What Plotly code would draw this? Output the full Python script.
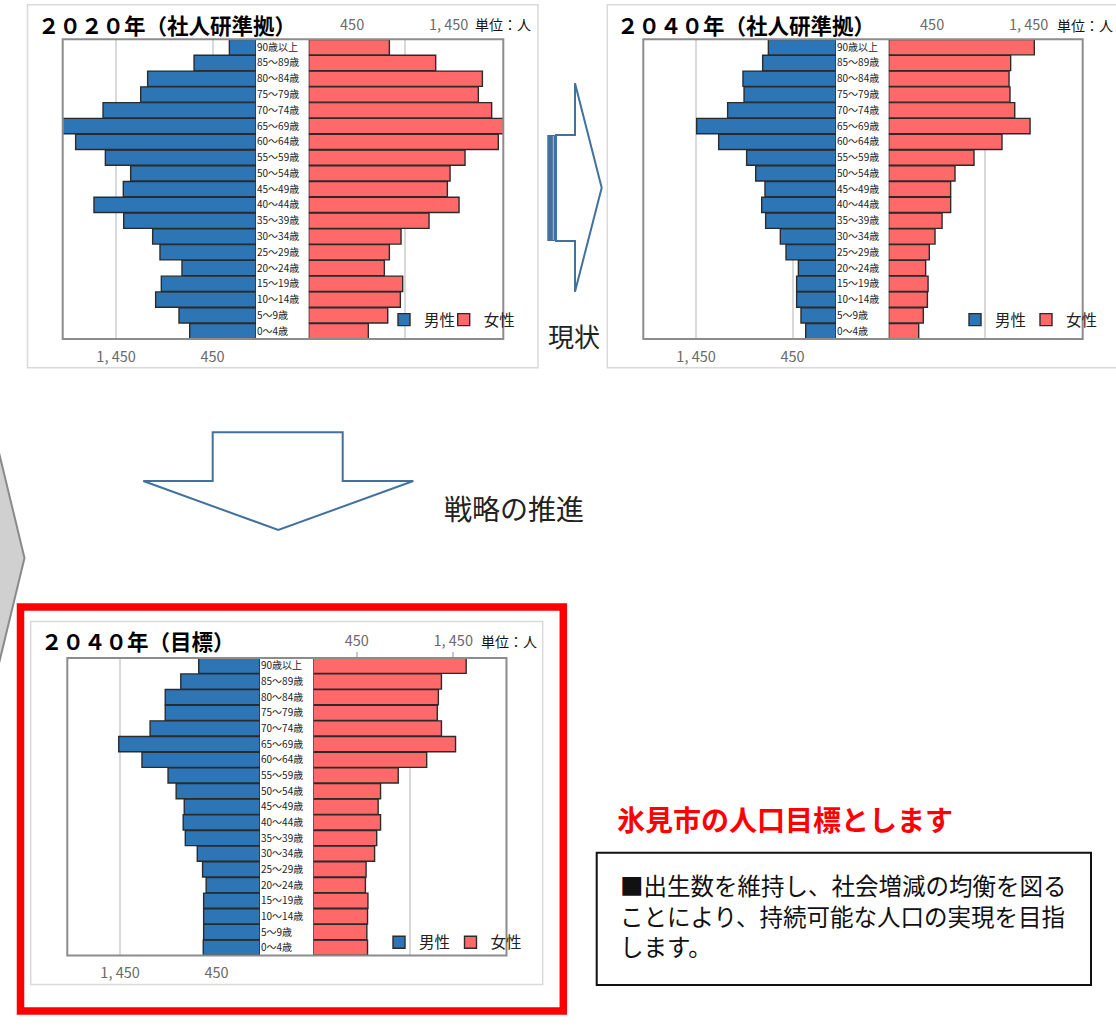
import plotly.graph_objects as go

# ---------------- data (persons) ----------------
ages = ["0～4歳", "5～9歳", "10～14歳", "15～19歳", "20～24歳", "25～29歳",
        "30～34歳", "35～39歳", "40～44歳", "45～49歳", "50～54歳", "55～59歳",
        "60～64歳", "65～69歳", "70～74歳", "75～79歳", "80～84歳", "85～89歳",
        "90歳以上"]

male_2020 = [687, 798, 1040, 981, 767, 995, 1071, 1371, 1679, 1375, 1299, 1561,
             1869, 2050, 1585, 1195, 1123, 642, 276]
female_2020 = [618, 819, 950, 974, 784, 836, 957, 1247, 1558, 1437, 1465, 1620,
               1965, 2040, 1896, 1758, 1800, 1316, 836]

male_2040 = [314, 363, 408, 408, 390, 518, 577, 729, 770, 736, 832, 926,
             1216, 1444, 1123, 953, 964, 760, 701]
female_2040 = [311, 359, 401, 408, 383, 421, 480, 553, 642, 642, 687, 884,
               1174, 1465, 1306, 1257, 1247, 1264, 1509]

male_target = [588, 584, 584, 584, 558, 595, 650, 774, 796, 785, 869, 953,
               1223, 1464, 1139, 982, 982, 821, 635]
female_target = [562, 555, 562, 566, 540, 547, 635, 657, 697, 672, 697, 880,
                 1175, 1474, 1328, 1285, 1296, 1328, 1584]

male_ticks = [450, 1450]
male_ticktext = ["450", "1, 450"]
male_top_ticks = [0, 1000, 2000]
female_ticks = [450, 1450]
female_ticktext = ["450", "1, 450"]
female_grid = [1000]

titles = ["２０２０年（社人研準拠）", "２０４０年（社人研準拠）", "２０４０年（目標）"]
unit_label = "単位：人"
legend_names = ["男性", "女性"]

# ---------------- layout helpers ----------------
W, H = 1116, 1032
K = 0.0965  # pixels per person
FONT = "Noto Sans CJK JP"
BLUE = "#2e75b6"
PINK = "#ff6969"
EDGE = "#2b2b2b"


def px(x):
    return x / W


def py(y):
    return 1 - y / H


charts = [
    dict(title=titles[0], male=male_2020, female=female_2020,
         mx0=62.7, mx1=256.0, fx0=308.7, fx1=503.3, y0=39.3, y1=339.0,
         tx=35.5, ty=24.5, ux=502.5, uy=23.5, leg=(398, 457.7), ly=320,
         outer=(27.5, 4.7, 538.0, 367.7), topticks=False),
    dict(title=titles[1], male=male_2040, female=female_2040,
         mx0=643.3, mx1=836.0, fx0=888.7, fx1=1082.7, y0=39.3, y1=339.0,
         tx=615, ty=24.8, ux=1085, uy=24.5, leg=(969, 1040), ly=320,
         outer=(607.3, 4.7, 1125.0, 367.7), topticks=False),
    dict(title=titles[2], male=male_target, female=female_target,
         mx0=67.3, mx1=260.0, fx0=313.3, fx1=506.5, y0=658.0, y1=955.5,
         tx=38.5, ty=640.7, ux=509, uy=641, leg=(393, 464.5), ly=942.7,
         outer=(30.7, 621.5, 542.7, 984.5), topticks=True),
]

fig = go.Figure()
layout = dict(
    width=W, height=H, autosize=False,
    margin=dict(l=0, r=0, t=0, b=0, autoexpand=False),
    paper_bgcolor="white", plot_bgcolor="rgba(0,0,0,0)",
    barmode="overlay", bargap=0.03,
    font=dict(family=FONT, color="#333"),
    showlegend=True,
)
shapes = []
annotations = []
extra_axis = 7

for i, c in enumerate(charts):
    mxa = 2 * i + 1
    fxa = 2 * i + 2
    ya = i + 1
    mref = "x" if mxa == 1 else f"x{mxa}"
    fref = f"x{fxa}"
    yref = "y" if ya == 1 else f"y{ya}"

    for k, (vals, xr, col) in enumerate([(c["male"], mref, BLUE), (c["female"], fref, PINK)]):
        n = 2 * i + k + 1
        lg = "legend" if n == 1 else f"legend{n}"
        fig.add_trace(go.Bar(
            y=ages, x=vals, orientation="h", name=legend_names[k],
            xaxis=xr, yaxis=yref, legend=lg,
            marker=dict(color=col, line=dict(color=EDGE, width=1.4)),
        ))
        layout[lg] = dict(
            orientation="h", x=px(c["leg"][k] - 14), y=py(c["ly"]),
            xanchor="left", yanchor="middle",
            bgcolor="rgba(0,0,0,0)", borderwidth=0,
            font=dict(family=FONT, size=15.5, color="#222"),
        )

    mrange = (c["mx1"] - c["mx0"]) / K
    frange = (c["fx1"] - c["fx0"]) / K
    tick_font = dict(family=FONT, size=14.5, color="#6a6a6a")

    layout["xaxis" if mxa == 1 else f"xaxis{mxa}"] = dict(
        domain=[px(c["mx0"]), px(c["mx1"])], range=[mrange, 0],
        anchor=yref, side="bottom",
        tickmode="array", tickvals=male_ticks, ticktext=male_ticktext,
        showgrid=True, gridcolor="#d9d9d9", gridwidth=1.5,
        zeroline=False, showline=False, ticks="",
        tickfont=tick_font, ticklabelstandoff=7, fixedrange=True,
    )
    layout[f"xaxis{fxa}"] = dict(
        domain=[px(c["fx0"]), px(c["fx1"])], range=[0, frange],
        anchor=yref, side="top",
        tickmode="array", tickvals=female_ticks, ticktext=female_ticktext,
        showgrid=False, zeroline=False, showline=False,
        ticks="outside" if c["topticks"] else "", ticklen=5,
        tickcolor="#c8c8c8", tickwidth=1.5,
        tickfont=tick_font, ticklabelstandoff=(0 if c["topticks"] else 5),
        minor=dict(tickmode="array", tickvals=female_grid, showgrid=True,
                   gridcolor="#d9d9d9", gridwidth=1.5, ticks=""),
        fixedrange=True,
    )
    if c["topticks"]:
        # small tick marks along the top edge of the male side
        layout[f"xaxis{extra_axis}"] = dict(
            overlaying=mref, anchor=yref, side="top", range=[mrange, 0],
            tickmode="array", tickvals=male_top_ticks, showticklabels=False,
            ticks="outside", ticklen=5, tickcolor="#c8c8c8", tickwidth=1.5,
            showgrid=False, zeroline=False, showline=False, fixedrange=True,
        )
    layout["yaxis" if ya == 1 else f"yaxis{ya}"] = dict(
        domain=[py(c["y1"]), py(c["y0"])], anchor=mref, side="right",
        type="category", categoryorder="array", categoryarray=ages,
        range=[-0.5, len(ages) - 0.5],
        showgrid=False, zeroline=False, showline=False, ticks="",
        tickfont=dict(family=FONT, size=10, color="#222"),
        ticklabelstandoff=0, fixedrange=True,
    )

    # chart outer border and plot frame
    ox0, oy0, ox1, oy1 = c["outer"]
    shapes.append(dict(type="rect", xref="paper", yref="paper",
                       x0=px(ox0), x1=px(ox1), y0=py(oy1), y1=py(oy0),
                       line=dict(color="#d9d9d9", width=1.5), layer="below"))
    shapes.append(dict(type="rect", xref="paper", yref="paper",
                       x0=px(c["mx0"]), x1=px(c["fx1"]), y0=py(c["y1"]), y1=py(c["y0"]),
                       line=dict(color="#8c8c8c", width=2), layer="above"))

    annotations.append(dict(text=c["title"], xref="paper", yref="paper",
                            x=px(c["tx"]), y=py(c["ty"]), xanchor="left", yanchor="middle",
                            showarrow=False,
                            font=dict(family=FONT, size=21.5, color="#000", weight="bold")))
    annotations.append(dict(text=unit_label, xref="paper", yref="paper",
                            x=px(c["ux"]), y=py(c["uy"]), xanchor="center", yanchor="middle",
                            showarrow=False,
                            font=dict(family=FONT, size=14, color="#111")))

# ---------------- decorations ----------------
ARROW = "#41719c"


def path(points):
    s = "M " + " L ".join(f"{px(x):.5f},{py(y):.5f}" for x, y in points) + " Z"
    return s


# right arrow (現状)
shapes.append(dict(type="path", xref="paper", yref="paper",
                   path=path([(556, 135), (575, 135), (575, 83.3), (601.7, 187.7),
                              (575, 291.7), (575, 241), (556, 241)]),
                   fillcolor="white", line=dict(color=ARROW, width=2)))
shapes.append(dict(type="rect", xref="paper", yref="paper",
                   x0=px(547.3), x1=px(556), y0=py(241), y1=py(135),
                   fillcolor=ARROW, line=dict(width=0)))
shapes.append(dict(type="line", xref="paper", yref="paper",
                   x0=px(553.3), x1=px(553.3), y0=py(240), y1=py(136),
                   line=dict(color="#a9bfd6", width=1)))
# down arrow (戦略の推進)
shapes.append(dict(type="path", xref="paper", yref="paper",
                   path=path([(212.7, 432.3), (342.7, 432.3), (342.7, 481), (413.3, 481),
                              (278.3, 530), (143.3, 481), (212.7, 481)]),
                   fillcolor="white", line=dict(color=ARROW, width=2)))
# grey chevron at the left edge
shapes.append(dict(type="path", xref="paper", yref="paper",
                   path=path([(-6, 432), (24.5, 558), (-6, 684)]),
                   fillcolor="#d0d0d0", line=dict(color="#8a8a8a", width=2)))
# red frame around the target chart
shapes.append(dict(type="rect", xref="paper", yref="paper",
                   x0=px(20.5), x1=px(563.3), y0=py(1011), y1=py(607),
                   line=dict(color="#ff0000", width=7.5)))
# message box
shapes.append(dict(type="rect", xref="paper", yref="paper",
                   x0=px(596.7), x1=px(1091), y0=py(985), y1=py(852.7),
                   line=dict(color="#111", width=2)))

annotations.append(dict(text="現状", xref="paper", yref="paper",
                        x=px(574), y=py(335), xanchor="center", yanchor="middle",
                        showarrow=False, font=dict(family=FONT, size=26, color="#222")))
annotations.append(dict(text="戦略の推進", xref="paper", yref="paper",
                        x=px(442), y=py(508), xanchor="left", yanchor="middle",
                        showarrow=False, font=dict(family=FONT, size=28, color="#222")))
annotations.append(dict(text="氷見市の人口目標とします", xref="paper", yref="paper",
                        x=px(615), y=py(819), xanchor="left", yanchor="middle",
                        showarrow=False,
                        font=dict(family=FONT, size=28, color="#ff0000", weight="bold")))
box_lines = ["■出生数を維持し、社会増減の均衡を図る",
             "ことにより、持続可能な人口の実現を目指",
             "します。"]
annotations.append(dict(text="<br>".join(box_lines), xref="paper", yref="paper",
                        x=px(618), y=py(915), xanchor="left", yanchor="middle",
                        align="left", showarrow=False,
                        font=dict(family=FONT, size=23.5, color="#111")))

layout["shapes"] = shapes
layout["annotations"] = annotations
fig.update_layout(**layout)
fig.write_html(
    "out.html",
    config={"displayModeBar": False, "responsive": False},
    post_script="document.documentElement.style.margin='0';"
                "document.body.style.margin='0';"
                "document.body.style.overflow='hidden';",
)
